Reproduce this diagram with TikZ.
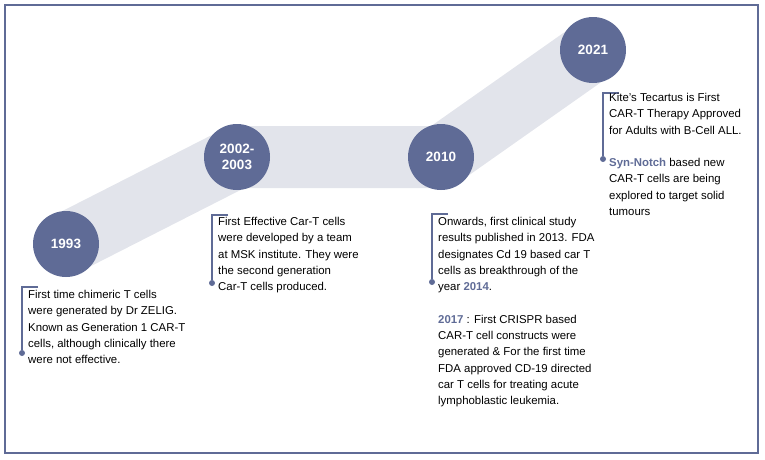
\documentclass[tikz,border=0pt]{standalone}
\usepackage{fontspec}
\setmainfont{Liberation Sans}
\begin{document}
\begin{tikzpicture}[x=1pt,y=-1pt]
\definecolor{nav}{HTML}{5F6B96}
\definecolor{band}{HTML}{E2E4EB}
\tikzset{
 yr/.style={circle,fill=nav,minimum size=66pt,inner sep=0pt,text=white,font=\bfseries\fontsize{13.5}{16}\selectfont,align=center},
 txt/.style={anchor=north west,align=left,inner sep=0pt,font=\fontsize{11.4}{16.3}\selectfont},
 brk/.style={nav,line width=1.2pt},
 dotn/.style={circle,fill=nav,inner sep=0pt,minimum size=6pt}
}
\useasboundingbox (0,0) rectangle (765,459);
\draw[nav,line width=1.5pt] (5,5) rectangle (758,453);
\coordinate (c1) at (66,244);
\coordinate (c2) at (237,157);
\coordinate (c3) at (441,157);
\coordinate (c4) at (593,50);
\draw[band,line width=62pt] (c1) -- (c2) -- (c3) -- (c4);
\node[yr] (a) at (c1) {1993};
\node[yr] (b) at (c2) {2002-\\2003};
\node[yr] (c) at (c3) {2010};
\node[yr] (d) at (c4) {2021};
\node[dotn] (d1) at (22,353) {};
\coordinate (t1) at (22,287);
\draw[brk] (38,287) -- (t1) -- (d1);
\node[txt] (x1) at (28,290) {First time chimeric T cells\\were generated by Dr ZELIG.\\Known as Generation 1 CAR-T\\cells, although clinically there\\were not effective.};
\node[dotn] (d2) at (212,283) {};
\coordinate (t2) at (212,215);
\draw[brk] (228,215) -- (t2) -- (d2);
\node[txt] (x2) at (218,217) {First Effective Car-T cells\\were developed by a team\\at MSK institute. They were\\the second generation\\Car-T cells produced.};
\node[dotn] (d3) at (432,282) {};
\coordinate (t3) at (432,214);
\draw[brk] (448,214) -- (t3) -- (d3);
\node[txt] (x3) at (438,217) {Onwards, first clinical study\\results published in 2013. FDA\\designates Cd 19 based car T\\cells as breakthrough of the\\year \textcolor{nav}{\bfseries 2014}.\\[16.3pt]\textcolor{nav}{\bfseries 2017} : First CRISPR based\\CAR-T cell constructs were\\generated \& For the first time\\FDA approved CD-19 directed\\car T cells for treating acute\\lymphoblastic leukemia.};
\node[dotn] (d4) at (603,159) {};
\coordinate (t4) at (603,93);
\draw[brk] (619,93) -- (t4) -- (d4);
\node[txt] (x4) at (609,93) {Kite's Tecartus is First\\CAR-T Therapy Approved\\for Adults with B-Cell ALL.\\[16.3pt]\textcolor{nav}{\bfseries Syn-Notch} based new\\CAR-T cells are being\\explored to target solid\\tumours};
\end{tikzpicture}
\end{document}
